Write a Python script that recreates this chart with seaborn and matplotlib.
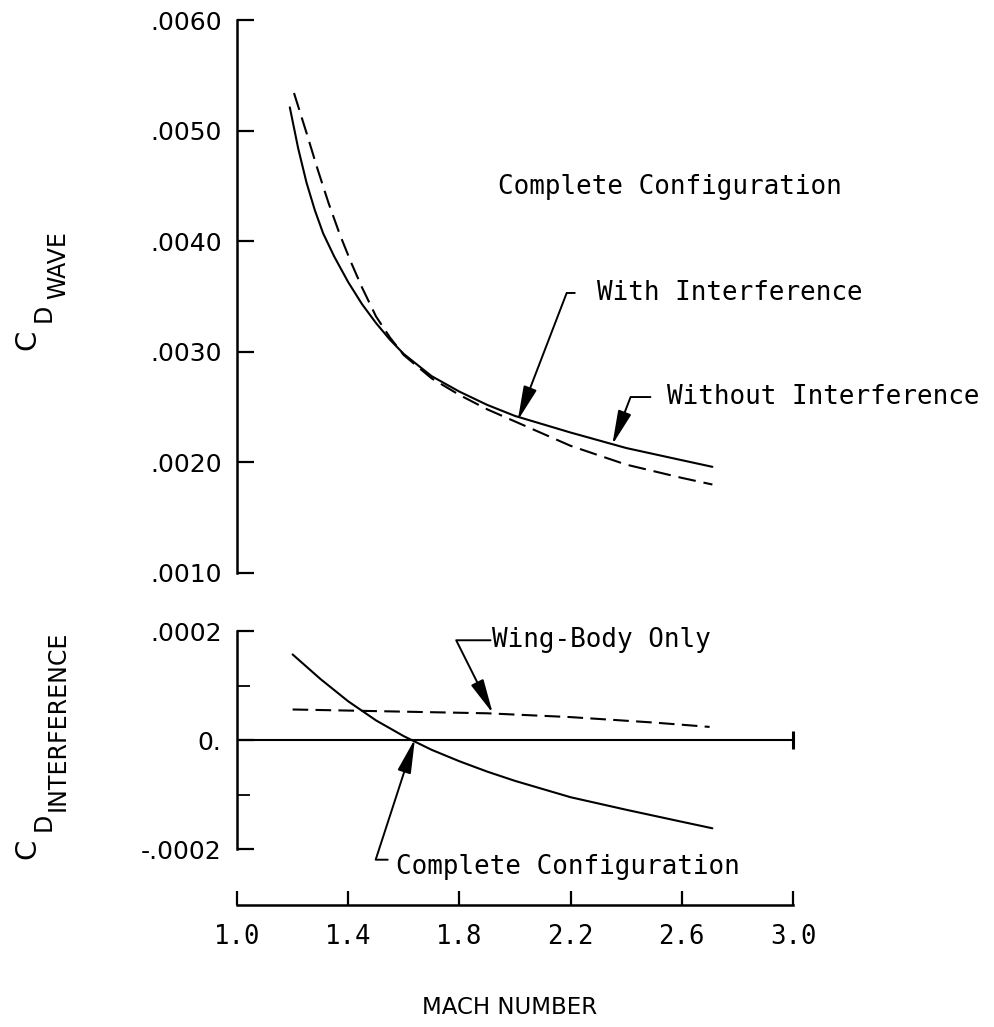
import matplotlib
matplotlib.use("Agg")
import matplotlib.pyplot as plt
import seaborn as sns

sns.set_theme(style="white")
plt.rcParams["font.family"] = ["DejaVu Sans"]
plt.rcParams["text.color"] = "black"

# ---------------- data ----------------
mach_with = [1.19, 1.22, 1.25, 1.28, 1.31, 1.35, 1.40, 1.45, 1.50, 1.55, 1.60, 1.70,
             1.80, 1.90, 2.00, 2.20, 2.40, 2.60, 2.71]
cd_with = [0.00521, 0.00484, 0.00453, 0.00428, 0.00407, 0.00386, 0.00363, 0.00343,
           0.00326, 0.00311, 0.00298, 0.00278, 0.00264, 0.00252, 0.00242, 0.00227,
           0.00213, 0.00202, 0.00196]

mach_without = [1.205, 1.25, 1.29, 1.33, 1.37, 1.41, 1.45, 1.50, 1.55, 1.60, 1.70,
                1.80, 1.90, 2.00, 2.20, 2.40, 2.60, 2.71]
cd_without = [0.00534, 0.00498, 0.00465, 0.00434, 0.00406, 0.00381, 0.00358, 0.00332,
              0.00313, 0.00297, 0.00276, 0.00261, 0.00248, 0.00237, 0.00215, 0.00198,
              0.00186, 0.00180]

mach_complete = [1.20, 1.30, 1.40, 1.50, 1.60, 1.70, 1.80, 1.90, 2.00, 2.20, 2.40,
                 2.60, 2.71]
cdi_complete = [0.000157, 0.000112, 0.000071, 0.000036, 0.000007, -0.000018,
                -0.000039, -0.000058, -0.000075, -0.000105, -0.000128, -0.000150,
                -0.000162]

mach_wingbody = [1.20, 1.50, 1.90, 2.20, 2.50, 2.70]
cdi_wingbody = [0.000056, 0.000053, 0.000049, 0.000042, 0.000032, 0.000024]

top_ticks = [0.0010, 0.0020, 0.0030, 0.0040, 0.0050, 0.0060]
top_ticklabels = [".0010", ".0020", ".0030", ".0040", ".0050", ".0060"]
bot_ticks = [-0.0002, 0.0, 0.0002]
bot_ticklabels = ["-.0002", "0.", ".0002"]
bot_minor = [-0.0001, 0.0001]
x_ticks = [1.0, 1.4, 1.8, 2.2, 2.6, 3.0]
x_ticklabels = ["1.0", "1.4", "1.8", "2.2", "2.6", "3.0"]

# ---------------- layout ----------------
W, H = 994, 1027
fig = plt.figure(figsize=(W / 100, H / 100), dpi=100)
fig.patch.set_facecolor("white")


def fx(px):
    return px / W


def fy(py):
    return 1 - py / H


LEFT, RIGHT = 237, 793
ax1 = fig.add_axes([fx(LEFT), fy(573), fx(RIGHT) - fx(LEFT), fy(20) - fy(573)])
ax2 = fig.add_axes([fx(LEFT), fy(905), fx(RIGHT) - fx(LEFT), fy(631) - fy(905)])

for ax in (ax1, ax2):
    ax.set_facecolor("none")
    ax.set_xlim(1.0, 3.0)
    ax.spines["top"].set_visible(False)
    ax.spines["right"].set_visible(False)
    ax.spines["left"].set_linewidth(1.8)
    ax.spines["left"].set_color("black")

ax1.spines["bottom"].set_visible(False)
ax1.set_ylim(0.0010, 0.0060)
ax2.set_ylim(-0.00030275, 0.0002)
ax2.spines["left"].set_bounds(-0.0002, 0.0002)
ax2.spines["bottom"].set_linewidth(1.8)
ax2.spines["bottom"].set_color("black")

LW = 1.5
sns.lineplot(x=mach_with, y=cd_with, ax=ax1, color="black", lw=LW, estimator=None,
             sort=True)
sns.lineplot(x=mach_without, y=cd_without, ax=ax1, color="black", lw=LW,
             linestyle=(0, (8.5, 3.8)), estimator=None, sort=True)
sns.lineplot(x=mach_complete, y=cdi_complete, ax=ax2, color="black", lw=LW,
             estimator=None, sort=True)
sns.lineplot(x=mach_wingbody, y=cdi_wingbody, ax=ax2, color="black", lw=LW,
             linestyle=(0, (7.5, 3.5)), estimator=None, sort=True)
ax2.axhline(0.0, color="black", lw=LW)
ax2.plot([x_ticks[-1]], [0.0], marker="|", ms=13, mew=2.2, color="black",
         clip_on=False)

# ticks
ax1.set_xticks([])
ax1.set_yticks(top_ticks)
ax1.set_yticklabels(top_ticklabels)
ax1.tick_params(axis="y", left=True, direction="in", length=12, width=1.6,
                pad=11, labelsize=18, colors="black")

ax2.set_yticks(bot_ticks)
ax2.set_yticklabels(bot_ticklabels)
ax2.set_yticks(bot_minor, minor=True)
ax2.tick_params(axis="y", which="major", left=True, direction="in", length=12,
                width=1.6, pad=11, labelsize=18, colors="black")
ax2.tick_params(axis="y", which="minor", left=True, direction="in", length=9,
                width=1.3, colors="black")
ax2.set_xticks(x_ticks)
ax2.set_xticklabels(x_ticklabels)
ax2.tick_params(axis="x", bottom=True, direction="in", length=10, width=1.6,
                pad=14, labelsize=18.5, colors="black")
for lbl in ax2.get_xticklabels():
    lbl.set_fontfamily("DejaVu Sans Mono")
for ax in (ax1, ax2):
    ax.set_xlabel("")
    ax.set_ylabel("")

# ---------------- annotations ----------------
MONO = "DejaVu Sans Mono"
FS = 18.7


def leader(ax, text, tip, txt, angleB, shrinkA, relpos=(0, 0.5)):
    ax.annotate(
        text, xy=tip, xytext=txt, textcoords="data", ha="left", va="center",
        fontsize=FS, family=MONO, color="black", annotation_clip=False,
        arrowprops=dict(arrowstyle="-|>,head_length=2.1,head_width=0.42",
                        connectionstyle=f"angle,angleA=0,angleB={angleB},rad=0",
                        color="black", lw=1.4, shrinkA=shrinkA, shrinkB=0,
                        relpos=relpos, mutation_scale=10, patchA=None),
    )


ax1.text(1.939, 0.004490, "Complete Configuration", ha="left", va="center",
         fontsize=FS, family=MONO, color="black")
leader(ax1, "With Interference", (2.01, 0.00238), (2.295, 0.003532), 69, 16)
leader(ax1, "Without Interference", (2.35, 0.00216), (2.547, 0.002591), 69, 12)
leader(ax2, "Wing-Body Only", (1.92, 0.000049), (1.917, 0.000183), 116.6, 1)
leader(ax2, "Complete Configuration", (1.64, 0.000002), (1.572, -0.000233), 72, 6,
       relpos=(0, 0.78))

# ---------------- axis titles ----------------
fig.text(fx(510), fy(1008), "MACH NUMBER", ha="center", va="center",
         fontsize=16.5, color="black")

# C_D WAVE
fig.text(fx(27), fy(340), "C", rotation=90, ha="center", va="center", fontsize=21,
         color="black")
fig.text(fx(44), fy(313), "D", rotation=90, ha="center", va="center", fontsize=17,
         color="black")
fig.text(fx(58), fy(265), "WAVE", rotation=90, ha="center", va="center",
         fontsize=17, color="black")
# C_D INTERFERENCE
fig.text(fx(27), fy(849), "C", rotation=90, ha="center", va="center", fontsize=21,
         color="black")
fig.text(fx(44), fy(822), "D", rotation=90, ha="center", va="center", fontsize=17,
         color="black")
fig.text(fx(58), fy(721), "INTERFERENCE", rotation=90, ha="center", va="center",
         fontsize=17, color="black")

fig.savefig("out.png", dpi=100, facecolor="white")
